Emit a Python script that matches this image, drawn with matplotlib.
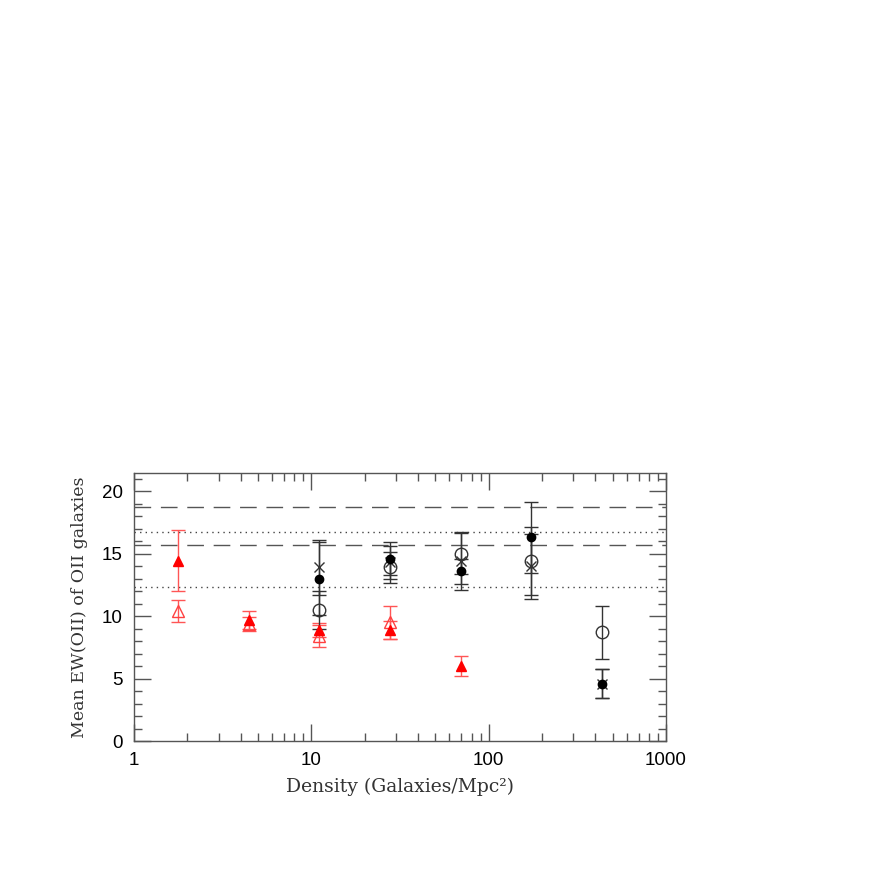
import numpy as np
import matplotlib
matplotlib.use("Agg")
import matplotlib.pyplot as plt
from matplotlib.ticker import LogLocator, MultipleLocator, NullFormatter

# density bins (Galaxies/Mpc^2)
density = [1.77, 4.43, 11.1, 27.8, 69.5, 174, 434]

# red filled triangles
red_fill_x = [1.77, 4.43, 11.1, 27.8, 69.5]
red_fill_y = [14.45, 9.7, 8.9, 8.9, 6.0]
red_fill_e = [2.45, 0.72, 0.55, 0.7, 0.8]

# red open triangles
red_open_x = [1.77, 4.43, 11.1, 27.8]
red_open_y = [10.4, 9.35, 8.4, 9.5]
red_open_e = [0.9, 0.55, 0.9, 1.3]

# black filled circles
blk_fill_x = [11.1, 27.8, 69.5, 174, 434]
blk_fill_y = [13.0, 14.6, 13.6, 16.3, 4.6]
blk_fill_e = [2.9, 1.3, 1.0, 2.85, 1.15]

# black open circles
blk_open_x = [11.1, 27.8, 69.5, 174, 434]
blk_open_y = [10.5, 13.9, 15.0, 14.4, 8.7]
blk_open_e = [1.5, 1.25, 1.65, 2.75, 2.1]

# crosses
cross_x = [11.1, 27.8, 69.5, 174, 434]
cross_y = [13.9, 14.3, 14.4, 14.0, 4.6]
cross_e = [2.2, 1.3, 2.3, 2.6, 1.15]

# horizontal reference levels
dashed_levels = [18.7, 15.7]
dotted_levels = [16.7, 12.35]

fig = plt.figure(figsize=(8.72, 8.72), dpi=100)
ax = fig.add_axes([0.1537, 0.1502, 0.6101, 0.3073])

for lev in dashed_levels:
    ax.axhline(lev, color='#555555', lw=1.0, dashes=(12, 7))
for lev in dotted_levels:
    ax.axhline(lev, color='#444444', lw=1.0, dashes=(1, 3))

red_err = '#ff5555'
blk_err = '#333333'

ax.errorbar(red_open_x, red_open_y, yerr=red_open_e, fmt='^', ms=8,
            mfc='none', mec='#ff4040', mew=1.0, ecolor=red_err, elinewidth=1,
            capsize=5, capthick=1)
ax.errorbar(red_fill_x, red_fill_y, yerr=red_fill_e, fmt='^', ms=7,
            mfc='red', mec='red', ecolor=red_err, elinewidth=1,
            capsize=5, capthick=1)
ax.errorbar(blk_open_x, blk_open_y, yerr=blk_open_e, fmt='o', ms=9,
            mfc='none', mec='#333333', mew=1.0, ecolor=blk_err, elinewidth=1,
            capsize=5, capthick=1)
ax.errorbar(cross_x, cross_y, yerr=cross_e, fmt='x', ms=7,
            color='#333333', mew=1.0, ecolor=blk_err, elinewidth=1,
            capsize=5, capthick=1)
ax.errorbar(blk_fill_x, blk_fill_y, yerr=blk_fill_e, fmt='o', ms=6,
            mfc='black', mec='black', ecolor=blk_err, elinewidth=1,
            capsize=5, capthick=1)

ax.set_xscale('log')
ax.set_xlim(1, 1000)
ax.set_ylim(0, 21.45)

ax.xaxis.set_minor_locator(LogLocator(base=10, subs=np.arange(2, 10), numticks=10))
ax.xaxis.set_minor_formatter(NullFormatter())
ax.set_xticks([1, 10, 100, 1000])
ax.set_xticklabels(['1', '10', '100', '1000'])
ax.yaxis.set_major_locator(MultipleLocator(5))
ax.yaxis.set_minor_locator(MultipleLocator(1))

ax.tick_params(which='both', direction='in', top=True, right=True,
               color='#555555', labelsize=13.5, pad=8)
ax.tick_params(which='major', length=12, width=1)
ax.tick_params(which='minor', length=6, width=1)
for lab in ax.get_xticklabels() + ax.get_yticklabels():
    lab.set_family('Liberation Sans')

for sp in ax.spines.values():
    sp.set_color('#555555')
    sp.set_linewidth(1)

ax.set_xlabel('Density (Galaxies/Mpc²)', family='DejaVu Serif',
              fontsize=13.5, color='#333333', labelpad=6)
ax.set_ylabel('Mean EW(OII) of OII galaxies', family='DejaVu Serif',
              fontsize=12.5, color='#333333', labelpad=10)

fig.savefig('out.png', dpi=100)
